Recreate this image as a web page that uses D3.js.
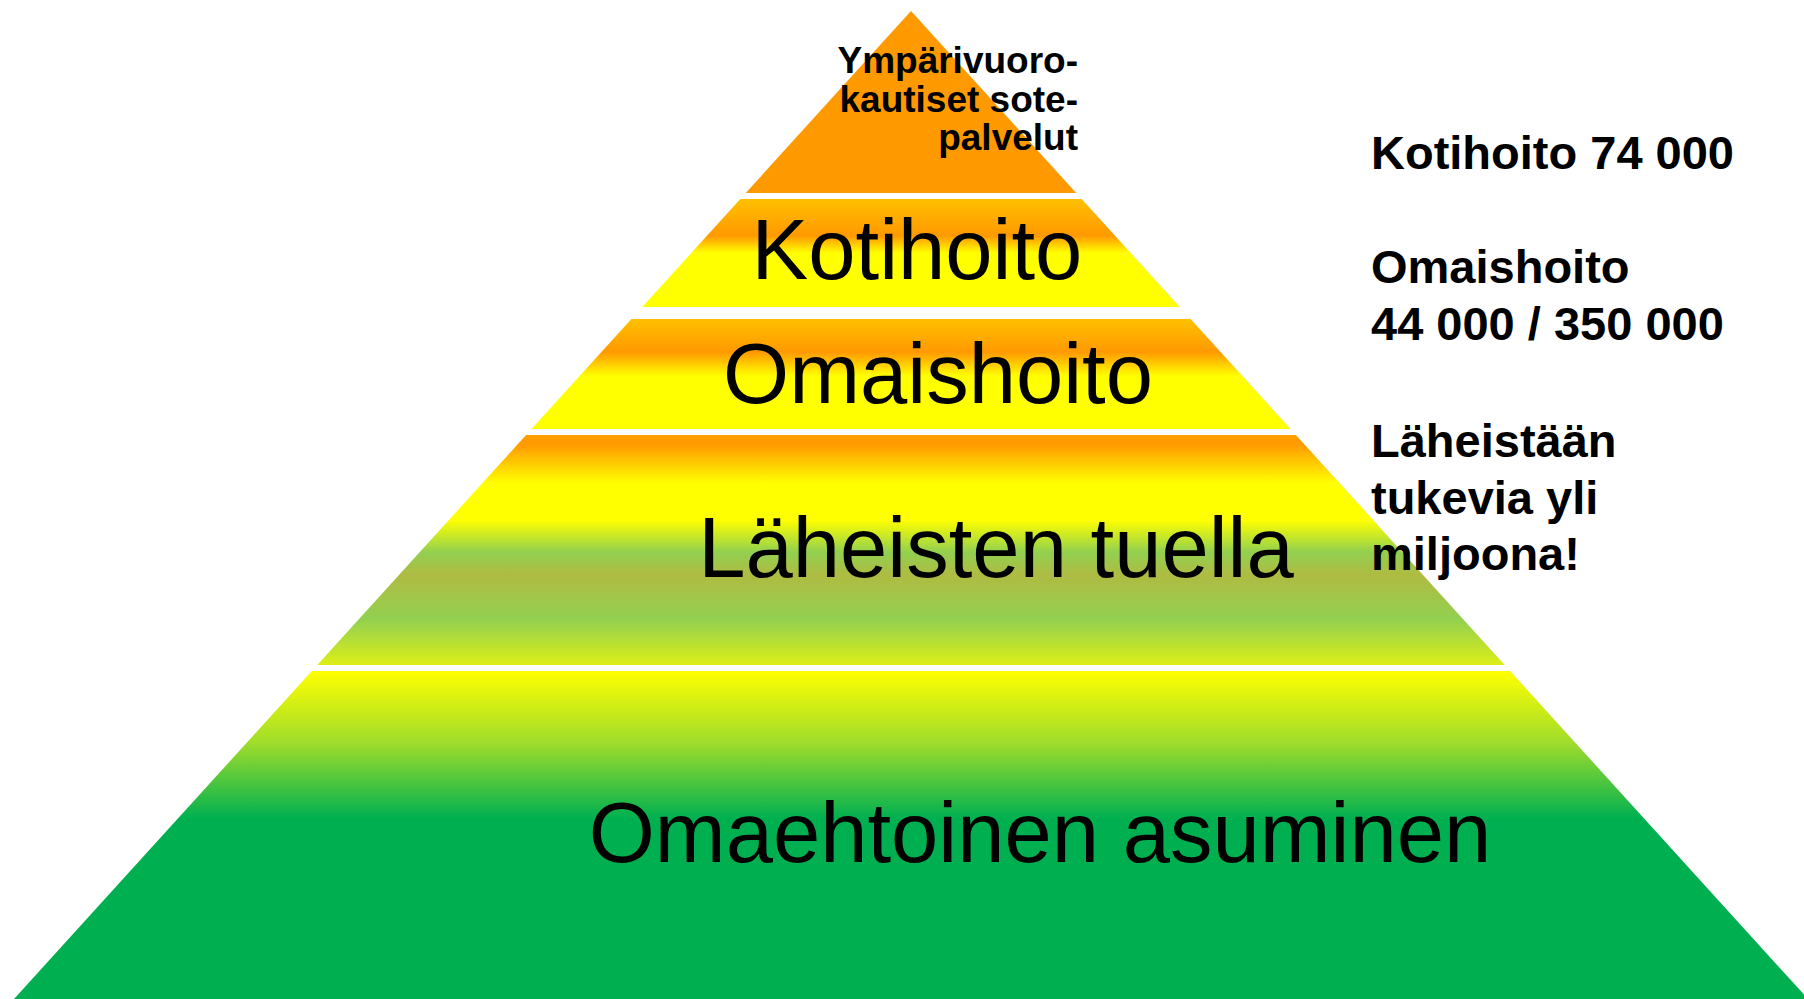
<!DOCTYPE html>
<html>
<head>
<meta charset="utf-8">
<script src="https://cdn.jsdelivr.net/npm/d3@7"></script>
<style>
  html, body { margin: 0; padding: 0; background: #ffffff; }
  svg { display: block; }
  text { font-family: "Liberation Sans", Arial, Helvetica, sans-serif; fill: #000; }
</style>
</head>
<body>
<svg id="chart" width="1804" height="999"></svg>
<script>
// ---- data ----
const levels = ["Omaehtoinen asuminen", "Läheisten tuella", "Omaishoito", "Kotihoito", "Ympärivuorokautiset sote-palvelut"];
// band extent on a 0 (base) .. 100 (apex) height scale
const levelFrom = [0, 33.81, 57.69, 70.04, 81.58];
const levelTo   = [33.2, 57.09, 68.83, 80.97, 100];
const bandLabelLines = [["Omaehtoinen asuminen"], ["Läheisten tuella"], ["Omaishoito"], ["Kotihoito"], ["Ympärivuoro-", "kautiset sote-", "palvelut"]];
const noteLines = [["Kotihoito 74 000"], ["Omaishoito", "44 000 / 350 000"], ["Läheistään", "tukevia yli", "miljoona!"]];

// ---- layout / styles ----
const W = 1804, H = 999;
const svg = d3.select("#chart");
const y = d3.scaleLinear().domain([0, 100]).range([999, 11]);
const x = d3.scaleLinear().domain([-100, 100]).range([911 - 897, 911 + 897]);

const gradients = [
  [[0, "#ffff00"], [0.22, "#9fdc2c"], [0.45, "#00b050"], [1, "#00b050"]],
  [[0, "#ffa000"], [0.04, "#ff9900"], [0.21, "#ffff00"], [0.37, "#ffff00"], [0.51, "#92d050"], [0.61, "#afbb42"], [0.8, "#92d050"], [1, "#dcee18"]],
  [[0, "#ffc000"], [0.3, "#ff9900"], [0.52, "#ffff00"], [1, "#ffff00"]],
  [[0, "#ffc000"], [0.34, "#ff9900"], [0.5, "#ffff00"], [1, "#ffff00"]],
  [[0, "#ff9900"], [1, "#ff9900"]]
];

const defs = svg.append("defs");
gradients.forEach((stops, i) => {
  const g = defs.append("linearGradient")
    .attr("id", "grad" + i)
    .attr("x1", 0).attr("y1", 0).attr("x2", 0).attr("y2", 1);
  g.selectAll("stop").data(stops).join("stop")
    .attr("offset", d => d[0])
    .attr("stop-color", d => d[1]);
});

const bands = levels.map((name, i) => ({ name, from: levelFrom[i], to: levelTo[i], i }));

svg.append("g").selectAll("path").data(bands).join("path")
  .attr("d", d => {
    const yt = y(d.to), yb = y(d.from);
    const ht = 100 - d.to, hb = 100 - d.from;
    return `M${x(-ht)},${yt}L${x(ht)},${yt}L${x(hb)},${yb}L${x(-hb)},${yb}Z`;
  })
  .attr("fill", d => `url(#grad${d.i})`);

// band labels
const labelPos = [
  { cx: 1040, base: 862, size: 85, weight: "normal", anchor: "middle" },
  { cx: 996, base: 577, size: 85, weight: "normal", anchor: "middle" },
  { cx: 938, base: 403, size: 85, weight: "normal", anchor: "middle" },
  { cx: 917, base: 279, size: 85, weight: "normal", anchor: "middle" },
  { cx: 1078, base: 73, size: 37, weight: "bold", anchor: "end", lh: 38.5 }
];
bands.forEach((b, i) => {
  const p = labelPos[i];
  const t = svg.append("text")
    .attr("x", p.cx).attr("y", p.base)
    .attr("text-anchor", p.anchor)
    .style("font-size", p.size + "px")
    .style("font-weight", p.weight);
  bandLabelLines[i].forEach((ln, j) => {
    t.append("tspan").attr("x", p.cx).attr("y", p.base + j * (p.lh || 0)).text(ln);
  });
});

// right-side notes
const noteBase = [169, 283, 457];
const noteLH = 56.5;
noteLines.forEach((lines, i) => {
  const t = svg.append("text")
    .attr("x", 1371).attr("y", noteBase[i])
    .style("font-size", "47px")
    .style("font-weight", "bold");
  lines.forEach((ln, j) => {
    t.append("tspan").attr("x", 1371).attr("y", noteBase[i] + j * noteLH).text(ln);
  });
});
</script>
</body>
</html>
